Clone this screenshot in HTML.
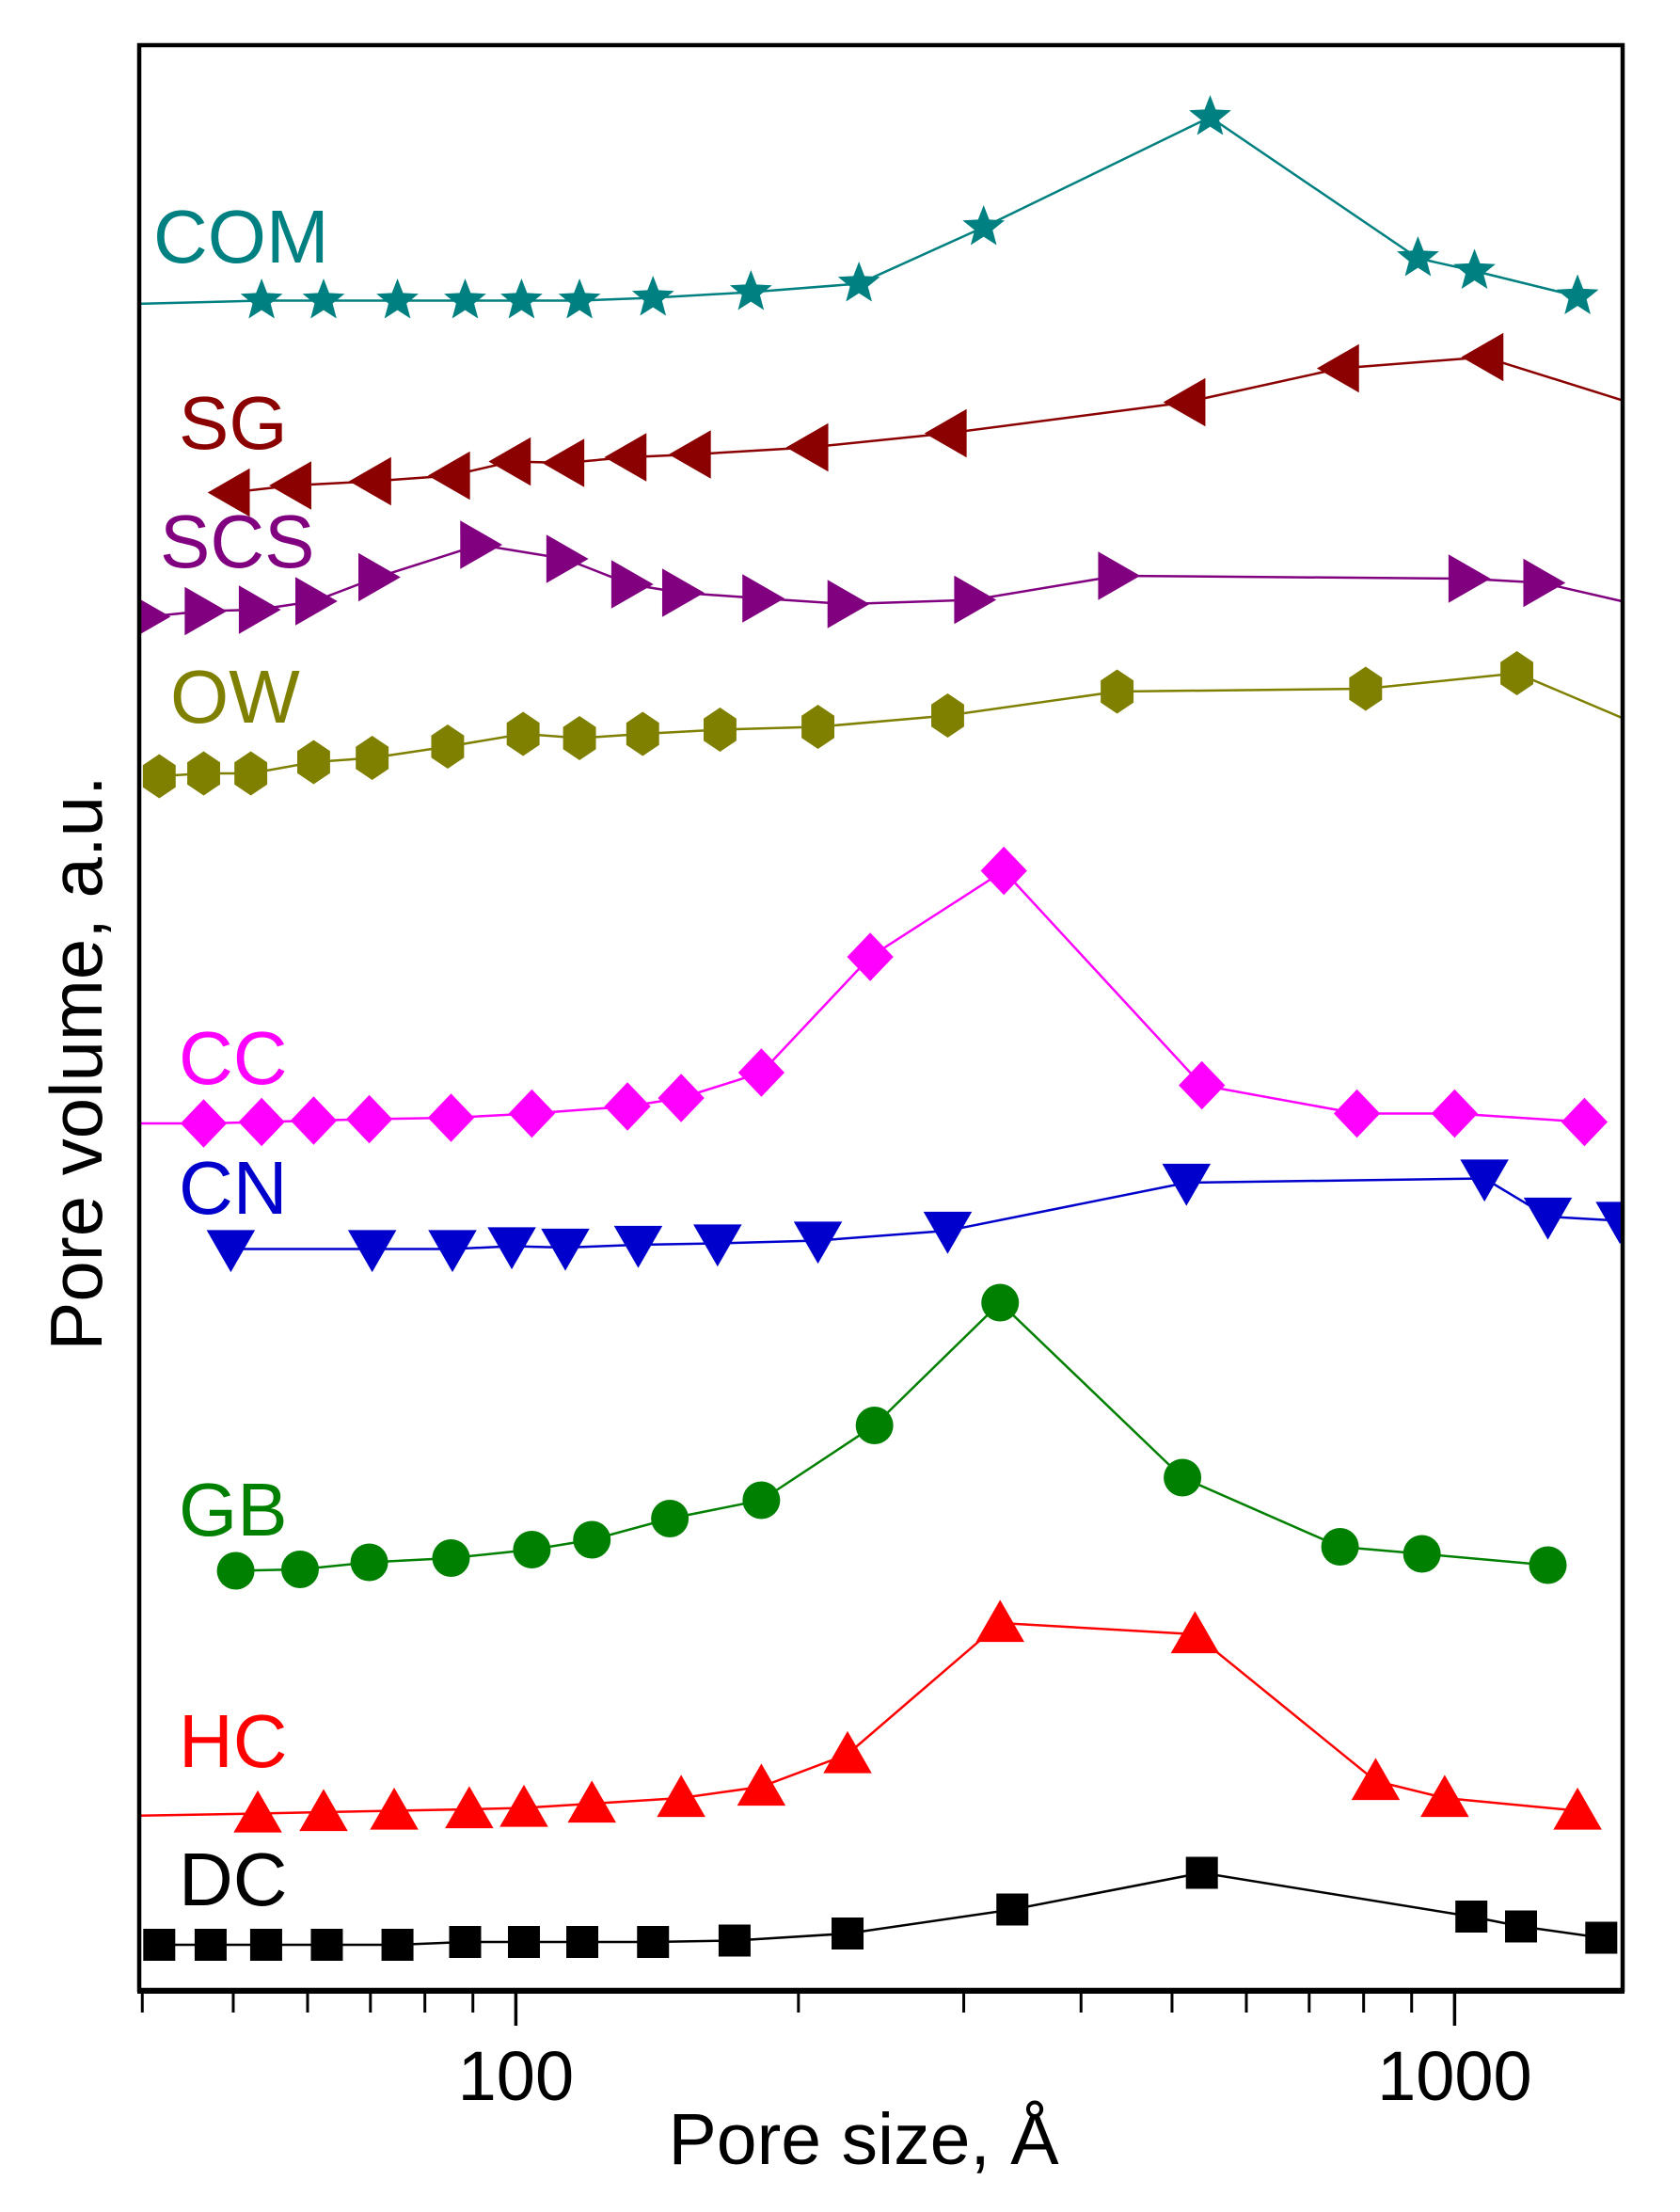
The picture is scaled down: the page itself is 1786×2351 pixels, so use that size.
<!DOCTYPE html>
<html><head><meta charset="utf-8"><style>
html,body{margin:0;padding:0;background:#fff}
svg{display:block}
text{font-family:"Liberation Sans",Arial,sans-serif}
</style></head><body>
<svg id="chart" width="1786" height="2351" viewBox="0 0 1786 2351" xmlns="http://www.w3.org/2000/svg">
<defs><clipPath id="plotclip"><rect x="148" y="48" width="1577" height="2067"/></clipPath></defs>
<g id="series" clip-path="url(#plotclip)"></g>
<rect x="148" y="48" width="1577" height="2067" fill="none" stroke="#000" stroke-width="4.5"/>
<line x1="146" y1="2116" x2="1727" y2="2116" stroke="#000" stroke-width="6"/>
<g id="ticks"></g>
<g id="labels"></g>
<text x="918" y="2300" font-size="77" text-anchor="middle">Pore size, Å</text>
<text x="0" y="0" font-size="78" text-anchor="middle" transform="translate(108,1130) rotate(-90)">Pore volume, a.u.</text>
</svg>
<script>
// x: pore size (Å), y: relative pore volume (a.u., offset traces)
const comX=[36,53.6,62.4,74.8,88.3,101.4,116.9,140,178,232,315,549,914,1050,1352];
const comY=[1194,1197,1197,1197,1197,1197,1197,1199,1203,1209,1249,1327,1227,1218,1200];
const sgX=[49.7,57.8,70.3,85.3,99,112.9,131.5,154,205.4,288.4,518,755,1076,1601];
const sgY=[1061,1066,1069,1073,1083,1082,1086,1088,1093,1103,1125,1149,1157,1121];
const scsX=[40.5,46.5,53.1,61,71.2,91.4,112.9,132.4,150,182.6,225,307,437,1032,1240,1601];
const scsY=[973,977,978,984,1001,1024,1014,996,990,986,982,985,1002,1000,997,980];
const owX=[41.7,46.5,52.2,60.9,70.3,84.6,101.8,116.9,136.5,165,209.8,288.4,437,804,1165,1601];
const owY=[860,862,862,870,873,881,890,887,890,893,895,903,920,922,933,894];
const ccX=[36,46.5,53.6,60.9,69.8,85.3,104,131.5,150,182.6,238.5,331,538,787,1000,1375];
const ccY=[614,614,615,616,617,618,621,626,632,650,732,793,641,621,621,615];
const cnX=[49.7,70.3,85.6,99,112.9,135,164,209.8,288.4,518,1076,1257,1500];
const cnY=[525,525,525,527,526,528,529,531,538,572,575,548,545];
const gbX=[50.3,58.9,69.8,85.3,104,120.5,145.9,182.6,241,328,513,755,923,1257];
const gbY=[297,298,303,306,312,319,334,347,400,487,363,314,309,301];
const hcX=[36,53.1,62.4,74.2,89.2,102,120.5,150,182.6,225.6,328,529,824,976,1352];
const hcY=[123,125,126,127,128,129,132,136,144,167,260,252,148,136,127];
const dcX=[41.7,47.3,54.2,62.9,74.8,88.3,102,117.7,140,171,225.6,338,538,1042,1177,1433];
const dcY=[32,32,32,32,32,34,34,34,34,35,40,57,83,52,45,37];
const tickMajor=[100,1000];
const tickMinor=[40,50,60,70,80,90,200,300,400,500,600,700,800,900];
const tickLabels=["100","1000"];

const L=148,R=1725,T=48,B=2115;
const lmin=Math.log10(39.7),lmax=Math.log10(1510);
const xs=v=>L+(Math.log10(v)-lmin)/(lmax-lmin)*(R-L);
const ys=v=>B-v/1378*(B-T);
const NS="http://www.w3.org/2000/svg";
const series=document.getElementById('series');
function mk(tag,attrs){const e=document.createElementNS(NS,tag);for(const k in attrs)e.setAttribute(k,attrs[k]);return e;}
function marker(type,cx,cy,c){
  const k=1.12;let e;
  if(type==='square')e=mk('rect',{x:cx-17,y:cy-17,width:34,height:34,fill:c});
  else if(type==='circle')e=mk('circle',{cx:cx,cy:cy,r:20,fill:c});
  else{
    let pts=[];
    if(type==='up')pts=[[0,-22],[23,18],[-23,18]];
    if(type==='down')pts=[[0,22],[23,-18],[-23,-18]];
    if(type==='left')pts=[[-22,0],[18,-23],[18,23]];
    if(type==='right')pts=[[22,0],[-18,-23],[-18,23]];
    if(type==='diamond')pts=[[0,-23],[22,0],[0,23],[-22,0]];
    if(type==='hex'){for(let i=0;i<6;i++){const a=Math.PI/3*i+Math.PI/6;pts.push([Math.cos(a)*18,Math.sin(a)*21]);}}
    if(type==='star'){for(let i=0;i<10;i++){const a=-Math.PI/2+Math.PI/5*i;const rr=i%2?9:21;pts.push([Math.cos(a)*rr,Math.sin(a)*rr]);}}
    e=mk('polygon',{points:pts.map(p=>(cx+p[0]*k)+','+(cy+p[1]*k)).join(' '),fill:c});
  }
  return e;
}
const defs=[
 ['com',comX,comY,'#008080','star'],['sg',sgX,sgY,'#8b0000','left'],['scs',scsX,scsY,'#800080','right'],
 ['ow',owX,owY,'#808000','hex'],['cc',ccX,ccY,'#ff00ff','diamond'],['cn',cnX,cnY,'#0000cd','down'],
 ['gb',gbX,gbY,'#008000','circle'],['hc',hcX,hcY,'#ff0000','up'],['dc',dcX,dcY,'#000000','square']];
defs.forEach(([n,X,Y,c,t])=>{
  const g=mk('g',{});
  
  
  const pl=mk('polyline',{points:X.map((x,i)=>xs(x)+','+ys(Y[i])).join(' '),fill:'none',stroke:c,'stroke-width':2.5});
  
  
  g.appendChild(pl);
  X.forEach((x,i)=>{
    const m=marker(t,xs(x),ys(Y[i]),c);
    
    
    g.appendChild(m);
  });
  series.appendChild(g);
});
const ticks=document.getElementById('ticks');
tickMinor.forEach(v=>{
  const l=mk('line',{x1:xs(v),x2:xs(v),y1:B,y2:B+24,stroke:'#000','stroke-width':3});
  
  
  ticks.appendChild(l);
});
tickMajor.forEach((v,i)=>{
  const l=mk('line',{x1:xs(v),x2:xs(v),y1:B,y2:B+38,stroke:'#000','stroke-width':3.5});
  
  
  ticks.appendChild(l);
  const tx=mk('text',{x:xs(v),y:2232,'font-size':74,'text-anchor':'middle'});
  tx.textContent=tickLabels[i];
  
  
  ticks.appendChild(tx);
});
const labs=[['COM',163,279,'#008080'],['SG',190,477,'#8b0000'],['SCS',170,603,'#800080'],['OW',181,768,'#808000'],
 ['CC',190,1152,'#ff00ff'],['CN',190,1290,'#0000cd'],['GB',190,1632,'#008000'],['HC',190,1878,'#ff0000'],['DC',190,2025,'#000000']];
const lg=document.getElementById('labels');
labs.forEach(([s,x,y,c])=>{
  const t=mk('text',{x:x,y:y,'font-size':80,fill:c});
  t.textContent=s;
  
  
  lg.appendChild(t);
});
</script>
</body></html>
